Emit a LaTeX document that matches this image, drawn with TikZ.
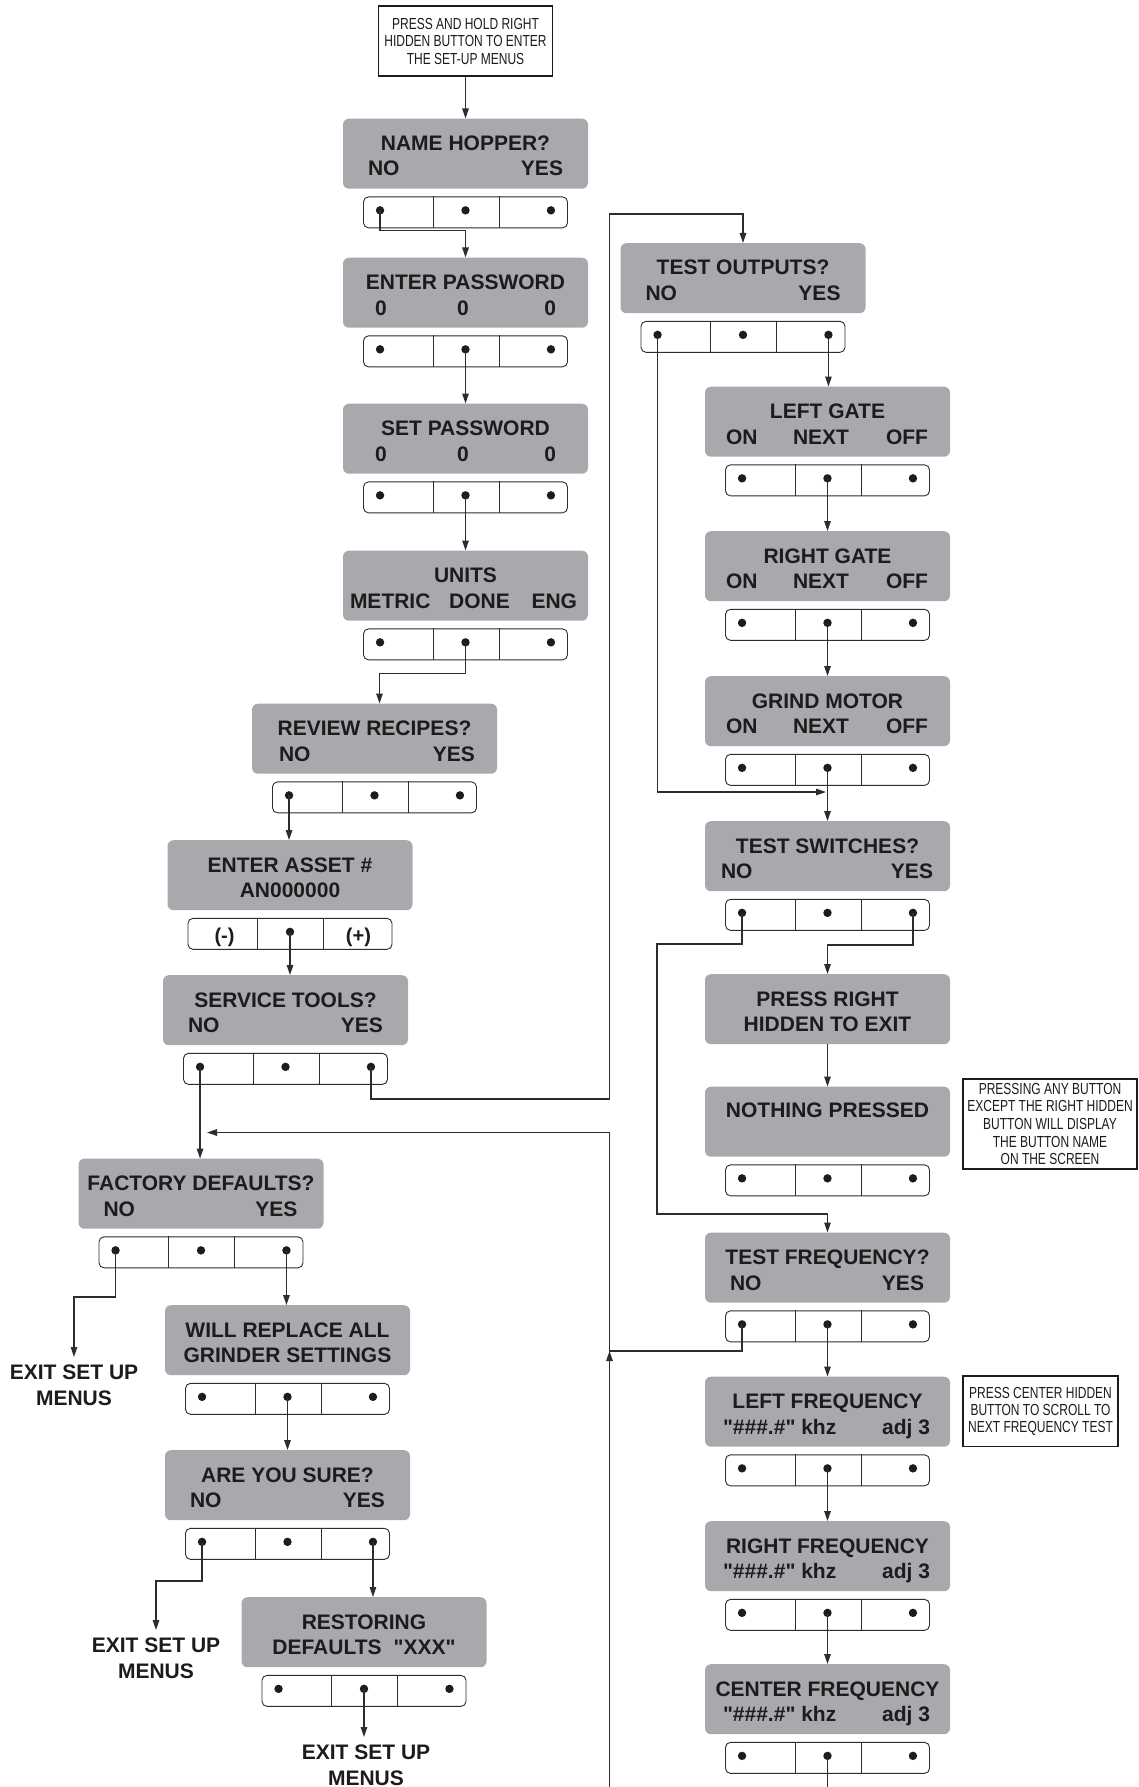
\documentclass[tikz,border=0pt]{standalone}
\usepackage{fontspec}
\setmainfont{Liberation Sans}[Ligatures=TeXOff, BoldFont={Liberation Sans Bold}]
\newfontfamily\narrowf{Liberation Sans}[FakeStretch=0.75, Ligatures=TeXOff]
\usetikzlibrary{arrows.meta}
\definecolor{scr}{RGB}{167,169,172}
\definecolor{ink}{RGB}{30,27,28}
\definecolor{wirec}{RGB}{45,45,45}
\tikzset{
  screenbox/.style={fill=scr, rounded corners=6pt, minimum width=245pt, minimum height=70pt, inner sep=0pt, draw=none},
  btnrow/.style={draw=wirec, line width=0.9pt, rounded corners=5pt, minimum width=204pt, minimum height=31pt, inner sep=0pt, fill=white},
  lbl/.style={font=\bfseries\fontsize{21}{25}\selectfont, text=ink, inner sep=0pt, text height=15pt, text depth=0pt},
  wire/.style={draw=wirec, line width=1.3pt},
  arr/.style={wire, -{Triangle[length=10pt,width=6.5pt]}},
  note/.style={draw=ink, line width=1.6pt, inner sep=0pt, align=center, font=\narrowf\fontsize{16}{17.6}\selectfont, text=ink},
  exitt/.style={font=\bfseries\fontsize{21}{25.5}\selectfont, text=ink, align=center, inner xsep=0pt, inner ysep=8pt},
}
% screen: name, center x, top y
\newcommand\screen[3]{%
  \node[screenbox, anchor=north] (#1) at (#2,#3) {};
  \node[btnrow, anchor=north] (#1b) at ([yshift=-7.5pt]#1.south) {};
  \draw[draw=wirec, line width=0.9pt] ([xshift=70pt]#1b.north west) -- ([xshift=70pt]#1b.south west);
  \draw[draw=wirec, line width=0.9pt] ([xshift=136pt]#1b.north west) -- ([xshift=136pt]#1b.south west);
  \path ([xshift=17pt,yshift=2pt]#1b.west) coordinate (#1L);
  \path ([yshift=2pt]#1b.center) coordinate (#1M);
  \path ([xshift=-17pt,yshift=2pt]#1b.east) coordinate (#1R);
}
\newcommand\btndots[1]{\fill[ink] (#1L) circle (4.2pt) (#1M) circle (4.2pt) (#1R) circle (4.2pt);}
\newcommand\sttl[2]{\node[lbl] (#1-t) at ([yshift=-24.5pt]#1.north) {#2};}
\newcommand\slr[5]{%
  \node[lbl, anchor=west] (#1-l) at ([xshift=#2pt, yshift=-50pt]#1.north west) {#3};
  \node[lbl, anchor=east] (#1-r) at ([xshift=-#4pt, yshift=-50pt]#1.north east) {#5};}
\newcommand\smid[3]{\node[lbl] (#1-m) at ([xshift=#2pt,yshift=-50pt]#1.north) {#3};}
\begin{document}
\begin{tikzpicture}[x=1pt,y=-1pt]
\useasboundingbox (0,0) rectangle (1139,1787);
\fill[white] (0,0) rectangle (1139,1787);

% top instruction box
\node[note, minimum width=174pt, minimum height=70pt, font=\narrowf\fontsize{16}{17.5}\selectfont] (tb) at (465.5,41) {PRESS AND HOLD RIGHT\\HIDDEN BUTTON TO ENTER\\THE SET-UP MENUS};

% ---------- left column ----------
\screen{nh}{465.5}{118.5}\btndots{nh}
\sttl{nh}{NAME HOPPER?}\slr{nh}{25}{NO}{25}{YES}

\screen{ep}{465.5}{257.5}\btndots{ep}
\sttl{ep}{ENTER PASSWORD}\slr{ep}{32}{0}{32}{0}\smid{ep}{-2.5}{0}

\screen{sp}{465.5}{403.5}\btndots{sp}
\sttl{sp}{SET PASSWORD}\slr{sp}{32}{0}{32}{0}\smid{sp}{-2.5}{0}

\screen{un}{465.5}{550.5}\btndots{un}
\sttl{un}{UNITS}\slr{un}{7}{METRIC}{11}{ENG}\smid{un}{14}{DONE}

\screen{rr}{374.5}{703.5}\btndots{rr}
\sttl{rr}{REVIEW RECIPES?}\slr{rr}{27}{NO}{22}{YES}

\screen{ea}{290}{840}
\fill[ink] (eaM) circle (4.2pt);
\node[lbl, font=\bfseries\fontsize{20}{24}\selectfont] (ea-minus) at ([xshift=37pt,yshift=-1pt]eab.west) {(-)};
\node[lbl, font=\bfseries\fontsize{20}{24}\selectfont] (ea-plus) at ([xshift=-34pt,yshift=-1pt]eab.east) {(+)};
\sttl{ea}{ENTER ASSET \#}\smid{ea}{0}{AN000000}

\screen{st}{285.5}{975}\btndots{st}
\sttl{st}{SERVICE TOOLS?}\slr{st}{25}{NO}{25}{YES}

\screen{fd}{201}{1158.5}\btndots{fd}
\sttl{fd}{FACTORY DEFAULTS?}\slr{fd}{25}{NO}{26}{YES}

\screen{wr}{287.5}{1305}\btndots{wr}
\sttl{wr}{WILL REPLACE ALL}\smid{wr}{0}{GRINDER SETTINGS}

\screen{ay}{287.5}{1450}\btndots{ay}
\sttl{ay}{ARE YOU SURE?}\slr{ay}{25}{NO}{25}{YES}

\screen{rd}{364}{1597}\btndots{rd}
\sttl{rd}{RESTORING}\smid{rd}{0}{DEFAULTS\hspace{12pt}"XXX"}

\node[exitt, anchor=north] (ex1) at (74,1357) {EXIT SET UP\\MENUS};
\node[exitt, anchor=north] (ex2) at (156,1630) {EXIT SET UP\\MENUS};
\node[exitt, anchor=north] (ex3) at (366,1737) {EXIT SET UP\\MENUS};

% ---------- right column ----------
\screen{to}{743}{243}\btndots{to}
\sttl{to}{TEST OUTPUTS?}\slr{to}{25}{NO}{25}{YES}

\screen{lg}{827.5}{386.5}\btndots{lg}
\sttl{lg}{LEFT GATE}\slr{lg}{21}{ON}{22}{OFF}\smid{lg}{-6.5}{NEXT}

\screen{rg}{827.5}{531}\btndots{rg}
\sttl{rg}{RIGHT GATE}\slr{rg}{21}{ON}{22}{OFF}\smid{rg}{-6.5}{NEXT}

\screen{gm}{827.5}{676}\btndots{gm}
\sttl{gm}{GRIND MOTOR}\slr{gm}{21}{ON}{22}{OFF}\smid{gm}{-6.5}{NEXT}

\screen{ts}{827.5}{821}\btndots{ts}
\sttl{ts}{TEST SWITCHES?}\slr{ts}{16}{NO}{17}{YES}

\node[screenbox, anchor=north] (pr) at (827.5,974) {};
\sttl{pr}{PRESS RIGHT}\smid{pr}{0}{HIDDEN TO EXIT}

\screen{np}{827.5}{1086.5}\btndots{np}
\node[lbl] (np-t) at ([yshift=-23pt]np.north) {NOTHING PRESSED};

\screen{tf}{827.5}{1232.5}\btndots{tf}
\sttl{tf}{TEST FREQUENCY?}\slr{tf}{25}{NO}{26}{YES}

\screen{lf}{827.5}{1376.5}\btndots{lf}
\sttl{lf}{LEFT FREQUENCY}\slr{lf}{18}{"\#\#\#.\#" khz}{20}{adj 3}

\screen{rf}{827.5}{1521}\btndots{rf}
\sttl{rf}{RIGHT FREQUENCY}\slr{rf}{18}{"\#\#\#.\#" khz}{20}{adj 3}

\screen{cf}{827.5}{1664}\btndots{cf}
\sttl{cf}{CENTER FREQUENCY}\slr{cf}{18}{"\#\#\#.\#" khz}{20}{adj 3}

% notes
\node[note, minimum width=174.5pt, minimum height=90pt] (nb1) at (1050,1124) {PRESSING ANY BUTTON\\EXCEPT THE RIGHT HIDDEN\\BUTTON WILL DISPLAY\\THE BUTTON NAME\\ON THE SCREEN};
\node[note, minimum width=155.5pt, minimum height=70.5pt, font=\narrowf\fontsize{16}{17}\selectfont] (nb2) at (1040.5,1411.3) {PRESS CENTER HIDDEN\\BUTTON TO SCROLL TO\\NEXT FREQUENCY TEST};

% junction coordinates
\coordinate (j1) at (609.5,1099);
\coordinate (j2) at (609.5,214);
\coordinate (jTO) at (826,792);
\coordinate (jS1) at (657,944);
\coordinate (jS2) at (657,1214);
\coordinate (jF) at (609.5,1351);
\coordinate (j3) at (609.5,1132.5);
\coordinate (jR) at (207,1132.5);
\coordinate (jB) at (609.5,1787);
\coordinate (jC) at (827.5,1787);

% ---------- connectors ----------
\draw[arr] (tb.south) -- (nh.north);
\draw[arr] (nhL) -- ++(0,20.5) -| (ep.north);
\draw[arr] (epM) -- (sp.north);
\draw[arr] (spM) -- (un.north);
\draw[arr] (unM) -- ++(0,31) -| ([xshift=5pt]rr.north);
\draw[arr] (rrL) -- (rrL |- ea.north);
\draw[arr] (eaM) -- (eaM |- st.north);
\draw[arr] (stL) -- (stL |- fd.north);
\draw[arr] (stR) |- (j1) -- (j2) -| (to.north);
\draw[arr] (fdL) -- ++(0,46.5) -| (ex1.north);
\draw[arr] (fdR) -- (fdR |- wr.north);
\draw[arr] (wrM) -- (wrM |- ay.north);
\draw[arr] (ayL) -- ++(0,39) -| (ex2.north);
\draw[arr] (ayR) -- (ayR |- rd.north);
\draw[arr] (rdM) -- (rdM |- ex3.north);

\draw[arr] (toR) -- (toR |- lg.north);
\draw[arr] (lgM) -- (rg.north);
\draw[arr] (rgM) -- (gm.north);
\draw[arr] (gmM) -- (ts.north);
\draw[arr] (toL) |- (jTO);
\draw[arr] (tsL) |- (jS1) -- (jS2) -| (tf.north);
\draw[arr] (tsR) -- ++(0,32) -| (pr.north);
\draw[arr] (pr.south) -- (np.north);
\draw[arr] (tfM) -- (lf.north);
\draw[arr] (lfM) -- (rf.north);
\draw[arr] (rfM) -- (cf.north);
\draw[wire] (cfM) -- (jC);
\draw[arr] (tfL) |- (jF) -- (j3) -- (jR);
\draw[arr] (jB) -- (jF);
\end{tikzpicture}
\end{document}
